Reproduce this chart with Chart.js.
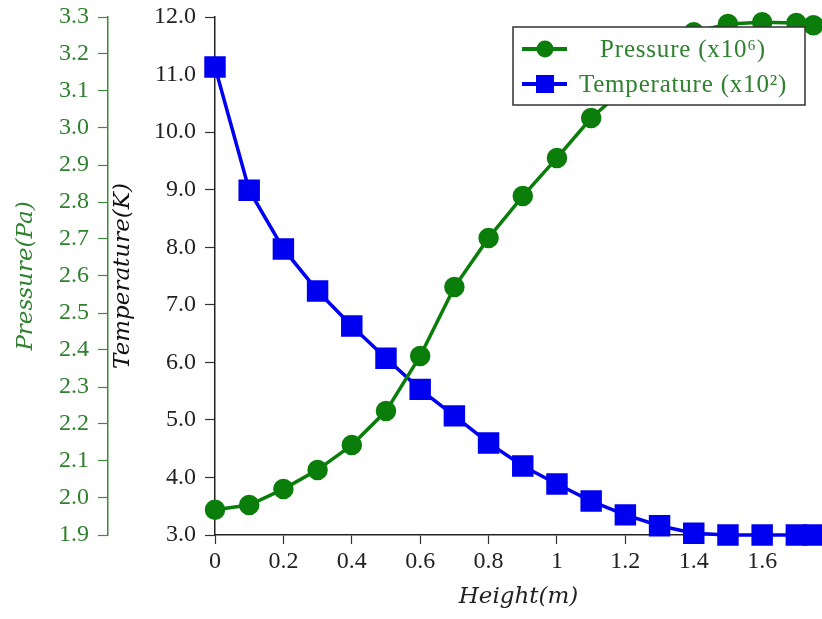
<!DOCTYPE html>
<html>
<head>
<meta charset="utf-8">
<script src="https://cdn.jsdelivr.net/npm/chart.js@4"></script>
<style>
  html, body { margin: 0; padding: 0; background: #fff; overflow: hidden; }
  #wrap { width: 822px; height: 619px; }
</style>
</head>
<body>
<div id="wrap"><canvas id="chart"></canvas></div>
<script>
const heights = [0, 0.1, 0.2, 0.3, 0.4, 0.5, 0.6, 0.7, 0.8, 0.9, 1.0, 1.1, 1.2, 1.3, 1.4, 1.5, 1.6, 1.7, 1.75]
const pressure = [1.968, 1.981, 2.024, 2.076, 2.143, 2.235, 2.384, 2.570, 2.703, 2.816, 2.919, 3.027, 3.108, 3.197, 3.259, 3.281, 3.286, 3.284, 3.278]
const temperature = [11.13, 8.99, 7.97, 7.24, 6.63, 6.07, 5.53, 5.07, 4.60, 4.20, 3.885, 3.59, 3.35, 3.16, 3.03, 3.0, 3.0, 3.0, 3.0]

const xTicks = [0, 0.2, 0.4, 0.6, 0.8, 1, 1.2, 1.4, 1.6]
const pressureTicks = [1.9, 2.0, 2.1, 2.2, 2.3, 2.4, 2.5, 2.6, 2.7, 2.8, 2.9, 3.0, 3.1, 3.2, 3.3]
const temperatureTicks = [3, 4, 5, 6, 7, 8, 9, 10, 11, 12]

const seriesLabels = ['Pressure (x10\u2076)', 'Temperature (x10\u00b2)']

const GREEN = '#0a7d0a'
const TEXT_GREEN = '#2f802f'
const BLUE = '#0000f0'
const SERIF = "'Liberation Serif', 'DejaVu Serif', serif"
const ITALIC = "'DejaVu Serif', serif"

// pgfplots-style boxed legend, drawn inside the plot area
const boxLegend = {
    id: 'boxLegend',
    afterDraw(chart) {
        const ctx = chart.ctx
        const x = 513, y = 27, w = 292, h = 78
        ctx.save()
        ctx.fillStyle = '#fff'
        ctx.fillRect(x, y, w, h)
        ctx.strokeStyle = '#333'
        ctx.lineWidth = 1.5
        ctx.strokeRect(x, y, w, h)
        chart.data.datasets.forEach((ds, i) => {
            const cy = y + 22 + i * 35
            ctx.strokeStyle = ds.borderColor
            ctx.lineWidth = 4
            ctx.beginPath()
            ctx.moveTo(x + 9, cy)
            ctx.lineTo(x + 54, cy)
            ctx.stroke()
            ctx.fillStyle = ds.borderColor
            if (ds.pointStyle === 'rect') {
                ctx.fillRect(x + 32 - 9, cy - 9, 18, 18)
            } else {
                ctx.beginPath()
                ctx.arc(x + 32, cy, 8.5, 0, Math.PI * 2)
                ctx.fill()
            }
            ctx.fillStyle = TEXT_GREEN
            ctx.font = '25px ' + SERIF
            ctx.letterSpacing = '0.8px'
            ctx.textAlign = 'center'
            ctx.textBaseline = 'middle'
            ctx.fillText(ds.label, x + 170, cy + 1)
        })
        ctx.restore()
    }
}

const setTicks = list => scale => { scale.ticks = list.map(v => ({ value: v })) }
const fitY = w => s => { s.width = w; s.paddingTop = 0; s.paddingBottom = 0 }

new Chart(document.getElementById('chart'), {
    type: 'line',
    data: {
        datasets: [{
            label: seriesLabels[0],
            data: heights.map((h, i) => ({ x: h, y: pressure[i] })),
            yAxisID: 'yP',
            borderColor: GREEN,
            backgroundColor: GREEN,
            borderWidth: 3.5,
            pointStyle: 'circle',
            pointRadius: 8.5,
            pointHoverRadius: 8.5,
            tension: 0,
            clip: false
        }, {
            label: seriesLabels[1],
            data: heights.map((h, i) => ({ x: h, y: temperature[i] })),
            yAxisID: 'yT',
            borderColor: BLUE,
            backgroundColor: BLUE,
            borderWidth: 3.5,
            pointStyle: 'rect',
            pointRadius: 12.7,
            pointHoverRadius: 12.7,
            tension: 0,
            clip: false
        }]
    },
    options: {
        responsive: true,
        maintainAspectRatio: false,
        animation: false,
        events: [],
        layout: { autoPadding: false, padding: { top: 17, right: 0, left: 0, bottom: 0 } },
        plugins: { legend: { display: false }, tooltip: { enabled: false } },
        scales: {
            x: {
                type: 'linear',
                min: 0,
                max: 1.775,
                afterBuildTicks: setTicks(xTicks),
                afterFit: s => { s.height = 84; s.paddingLeft = 0; s.paddingRight = 0 },
                grid: { drawOnChartArea: false, tickLength: 9, color: '#333', tickWidth: 1.2 },
                border: { display: true, color: '#222', width: 1.5 },
                ticks: {
                    color: '#222',
                    font: { family: SERIF, size: 24 },
                    padding: 3,
                    maxRotation: 0,
                    callback: v => String(v)
                },
                title: {
                    display: true,
                    text: 'Height(m)',
                    color: '#222',
                    font: { family: ITALIC, size: 23, style: 'italic' },
                    padding: { top: 0, bottom: 8 }
                }
            },
            yT: {
                position: 'left',
                weight: 0,
                min: 3,
                max: 12,
                afterBuildTicks: setTicks(temperatureTicks),
                afterFit: fitY(107),
                grid: { drawOnChartArea: false, tickLength: 10, color: '#333', tickWidth: 1.2 },
                border: { display: true, color: '#222', width: 1.5 },
                ticks: {
                    color: '#222',
                    font: { family: SERIF, size: 24 },
                    padding: 9,
                    callback: v => v.toFixed(1)
                },
                title: {
                    display: true,
                    text: 'Temperature(K)',
                    color: '#111',
                    font: { family: ITALIC, size: 23, style: 'italic' },
                    padding: { top: 1, bottom: 0 }
                }
            },
            yP: {
                position: 'left',
                weight: 1,
                min: 1.9,
                max: 3.3,
                afterBuildTicks: setTicks(pressureTicks),
                afterFit: fitY(108),
                grid: { drawOnChartArea: false, tickLength: 10, color: '#3d8a3d', tickWidth: 1.2 },
                border: { display: true, color: '#3d8a3d', width: 1.5 },
                ticks: {
                    color: TEXT_GREEN,
                    font: { family: SERIF, size: 24 },
                    padding: 9,
                    callback: v => v.toFixed(1)
                },
                title: {
                    display: true,
                    text: 'Pressure(Pa)',
                    color: TEXT_GREEN,
                    font: { family: ITALIC, size: 23, style: 'italic' },
                    padding: { top: 12, bottom: 0 }
                }
            }
        }
    },
    plugins: [boxLegend]
})
</script>
</body>
</html>
